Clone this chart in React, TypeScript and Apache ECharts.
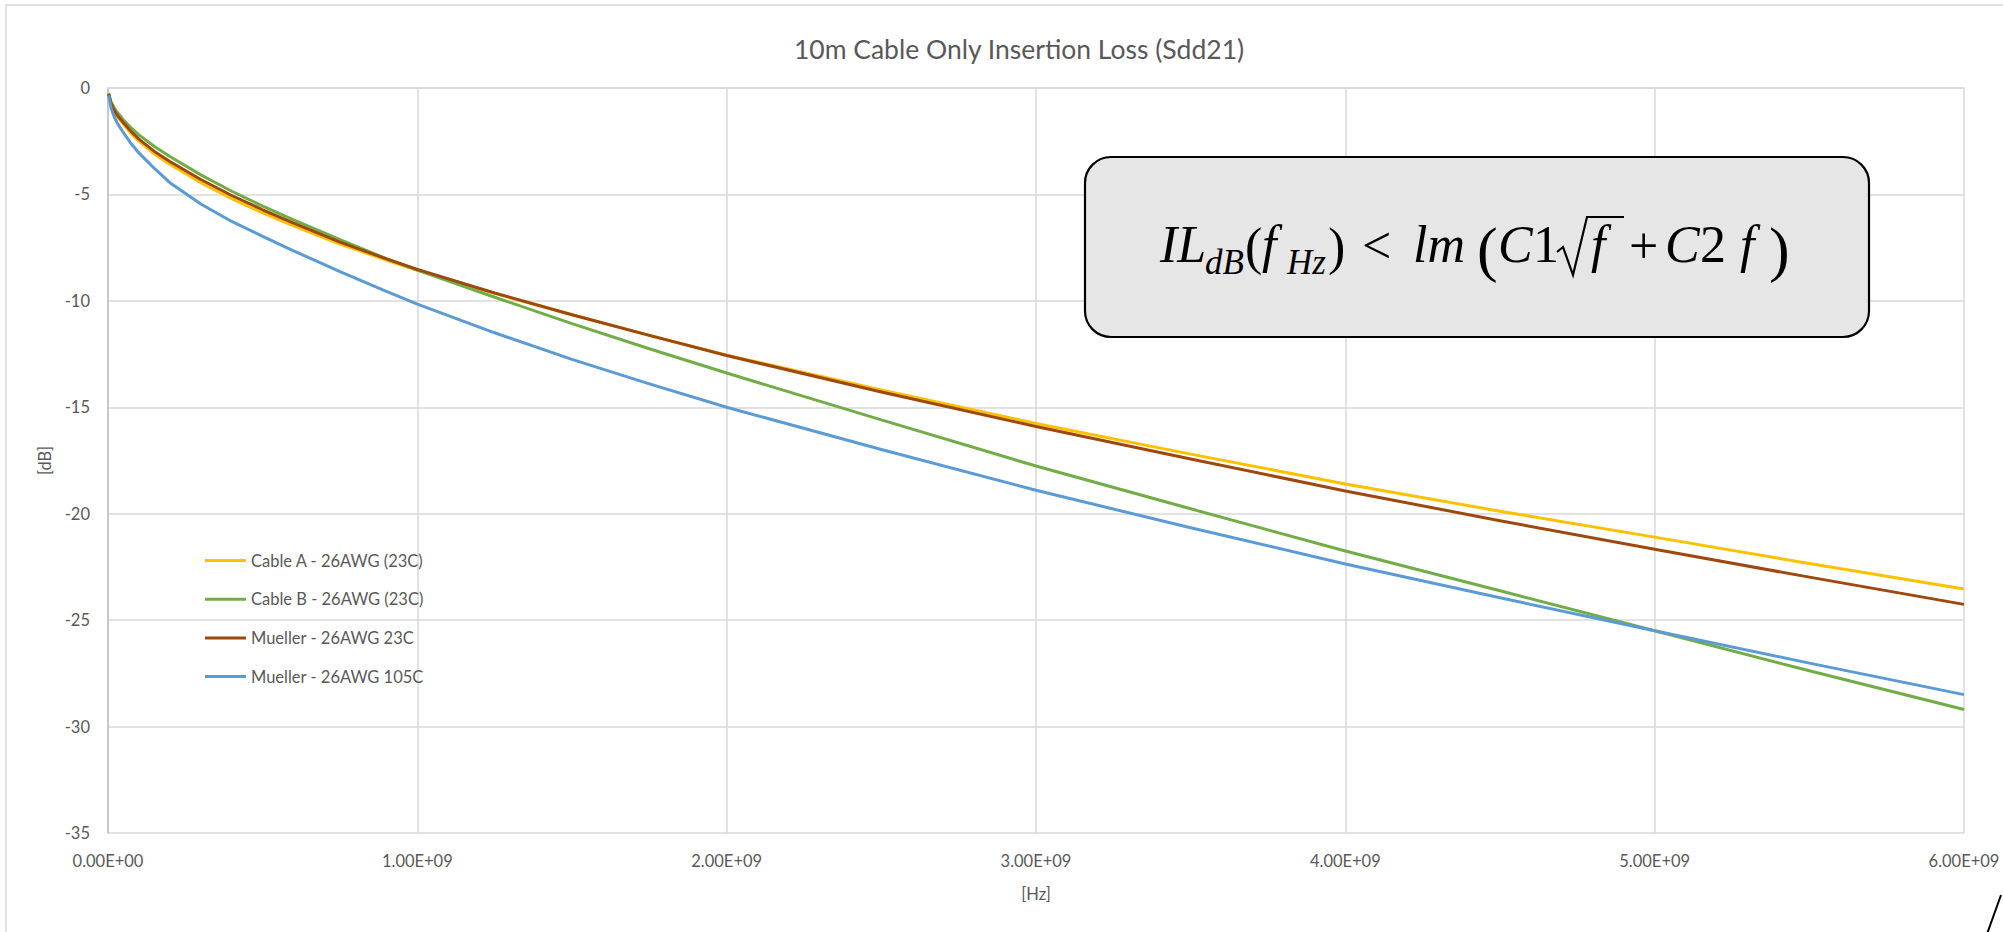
import { useEffect, useRef } from 'react';
import * as echarts from 'echarts';

// Frequencies (Hz)
const freqHz = [
  2e6, 1e7, 2e7, 3e7, 5e7, 7.5e7, 1e8, 1.5e8, 2e8, 3e8, 4e8, 5e8, 6e8, 7.5e8, 9e8,
  1e9, 1.25e9, 1.5e9, 1.75e9, 2e9, 2.5e9, 3e9, 3.5e9, 4e9, 4.5e9, 5e9, 5.5e9, 6e9,
];

// Insertion loss (dB)
const cableA = [
  -0.3, -0.78, -1.1, -1.35, -1.7, -2.15, -2.5, -3.1, -3.58, -4.45, -5.2, -5.87, -6.48, -7.33, -8.09,
  -8.56, -9.65, -10.65, -11.62, -12.55, -14.19, -15.76, -17.2, -18.6, -19.88, -21.1, -22.34, -23.54,
];
const cableB = [
  -0.25, -0.65, -0.93, -1.14, -1.5, -1.87, -2.2, -2.75, -3.22, -4.08, -4.85, -5.55, -6.2, -7.12, -8.02,
  -8.55, -9.83, -11.07, -12.25, -13.39, -15.59, -17.76, -19.77, -21.75, -23.62, -25.5, -27.38, -29.2,
];
const mueller23 = [
  -0.28, -0.74, -1.05, -1.28, -1.63, -2.05, -2.4, -2.98, -3.45, -4.3, -5.05, -5.72, -6.35, -7.24, -8.03,
  -8.52, -9.63, -10.65, -11.62, -12.57, -14.28, -15.9, -17.43, -18.93, -20.33, -21.67, -22.98, -24.26,
];
const mueller105 = [
  -0.35, -0.95, -1.35, -1.65, -2.1, -2.62, -3.05, -3.78, -4.45, -5.45, -6.27, -6.97, -7.65, -8.63, -9.55,
  -10.15, -11.5, -12.75, -13.9, -15.0, -16.98, -18.9, -20.66, -22.36, -23.95, -25.5, -27.02, -28.5,
];

const seriesNames = [
  'Cable A - 26AWG (23C)',
  'Cable B - 26AWG (23C)',
  'Mueller - 26AWG 23C',
  'Mueller - 26AWG 105C',
];
const seriesValues = [cableA, cableB, mueller23, mueller105];
const seriesColors = ['#FFC000', '#70AD47', '#9E480E', '#5B9BD5'];

const titleText = '10m Cable Only Insertion Loss (Sdd21)';
const xAxisName = '[Hz]';
const yAxisName = '[dB]';

const LABEL_FONT = 'Lato, "Open Sans", sans-serif';
const TEXT_GRAY = '#595959';

function fmtExp(v: number): string {
  const s = v.toExponential(2).toUpperCase();
  const m = s.match(/^(-?[\d.]+)E([+-])(\d+)$/);
  if (!m) return s;
  return `${m[1]}E${m[2]}${m[3].padStart(2, '0')}`;
}

// Formula tokens: [x, text, fontSize, italic, centerY]
const formulaTokens: [number, string, number, boolean, number][] = [
  [1160, 'IL', 52, true, 244],
  [1205, 'dB', 35, true, 262],
  [1245, '(', 52, false, 246],
  [1262, 'f', 52, true, 244],
  [1287, 'Hz', 35, true, 262],
  [1328, ')', 52, false, 246],
  [1362, '<', 52, false, 245],
  [1413, 'lm', 52, true, 244],
  [1477, '(', 62, false, 249],
  [1498, 'C', 52, true, 244],
  [1533, '1', 52, false, 244],
  [1591, 'f', 52, true, 244],
  [1629, '+', 52, false, 245],
  [1665, 'C', 52, true, 244],
  [1700, '2', 52, false, 244],
  [1740, 'f', 52, true, 244],
  [1769, ')', 62, false, 249],
];

export default function App() {
  const ref = useRef<HTMLDivElement>(null);

  useEffect(() => {
    if (!ref.current) return;
    const chart = echarts.init(ref.current, undefined, { renderer: 'svg' });

    const series = seriesNames.map((name, i) => ({
      name,
      type: 'line',
      data: freqHz.map((f, j) => [f, seriesValues[i][j]]),
      showSymbol: false,
      symbol: 'none',
      smooth: false,
      lineStyle: { color: seriesColors[i], width: 3, join: 'round' },
      itemStyle: { color: seriesColors[i] },
      z: 2 + i,
    }));

    const formulaGraphics: any[] = formulaTokens.map(([x, t, size, italic, cy]) => ({
      type: 'text',
      x,
      y: cy,
      z: 102,
      style: {
        text: t,
        fontFamily: '"Liberation Serif", "DejaVu Serif", serif',
        fontStyle: italic ? 'italic' : 'normal',
        fontSize: size,
        fill: '#000',
        align: 'left',
        verticalAlign: 'middle',
      },
    }));

    chart.setOption({
      animation: false,
      backgroundColor: '#ffffff',
      title: {
        text: titleText,
        left: 1014,
        top: 30,
        textAlign: 'center',
        textStyle: {
          fontFamily: LABEL_FONT,
          fontSize: 26.5,
          fontWeight: 'normal',
          color: TEXT_GRAY,
        },
      },
      legend: {
        orient: 'vertical',
        left: 200,
        top: 547,
        icon: 'rect',
        itemWidth: 41,
        itemHeight: 3,
        itemGap: 21.7,
        data: seriesNames,
        textStyle: {
          fontFamily: LABEL_FONT,
          fontSize: 16.5,
          lineHeight: 16,
          color: TEXT_GRAY,
        },
      },
      grid: { left: 108, right: 39, top: 88, bottom: 99, containLabel: false },
      xAxis: {
        type: 'value',
        min: 0,
        max: 6e9,
        interval: 1e9,
        name: xAxisName,
        nameLocation: 'middle',
        nameGap: 52,
        nameTextStyle: { fontFamily: LABEL_FONT, fontSize: 16.5, color: TEXT_GRAY },
        axisLine: { show: true, lineStyle: { color: '#d9d9d9', width: 1.5 } },
        axisTick: { show: false },
        axisLabel: {
          margin: 19,
          fontFamily: LABEL_FONT,
          fontSize: 16.5,
          color: TEXT_GRAY,
          formatter: (v: number) => fmtExp(v),
        },
        splitLine: { show: true, lineStyle: { color: '#d9d9d9', width: 1.5 } },
      },
      yAxis: {
        type: 'value',
        min: -35,
        max: 0,
        interval: 5,
        name: yAxisName,
        nameLocation: 'middle',
        nameGap: 52,
        nameTextStyle: { fontFamily: LABEL_FONT, fontSize: 16.5, color: TEXT_GRAY },
        axisLine: { show: true, lineStyle: { color: '#bfbfbf', width: 1.5 } },
        axisTick: { show: false },
        axisLabel: {
          margin: 18,
          fontFamily: LABEL_FONT,
          fontSize: 16.5,
          color: TEXT_GRAY,
        },
        splitLine: { show: true, lineStyle: { color: '#d9d9d9', width: 1.5 } },
      },
      series,
      graphic: [
        {
          type: 'rect',
          z: 0,
          silent: true,
          shape: { x: 6, y: 5, width: 2200, height: 1200 },
          style: { fill: 'none', stroke: '#d9d9d9', lineWidth: 1.5 },
        },
        {
          type: 'rect',
          z: 100,
          shape: { x: 1085, y: 157, width: 784, height: 180, r: 26 },
          style: { fill: '#e6e6e6', stroke: '#000000', lineWidth: 2.2 },
        },
        ...formulaGraphics,
        {
          type: 'polyline',
          z: 102,
          shape: {
            points: [
              [1557, 252],
              [1563, 247],
              [1573, 275],
              [1587, 217],
              [1624, 217],
            ],
          },
          style: { stroke: '#000', lineWidth: 2.2, fill: 'none' },
        },
        {
          type: 'line',
          z: 102,
          shape: { x1: 2001, y1: 895, x2: 1987, y2: 934 },
          style: { stroke: '#000', lineWidth: 2 },
        },
      ],
    });

    return () => {
      chart.dispose();
    };
  }, []);

  return (
    <div
      ref={ref}
      style={{ position: 'fixed', left: 0, top: 0, width: 2003, height: 932 }}
    />
  );
}
